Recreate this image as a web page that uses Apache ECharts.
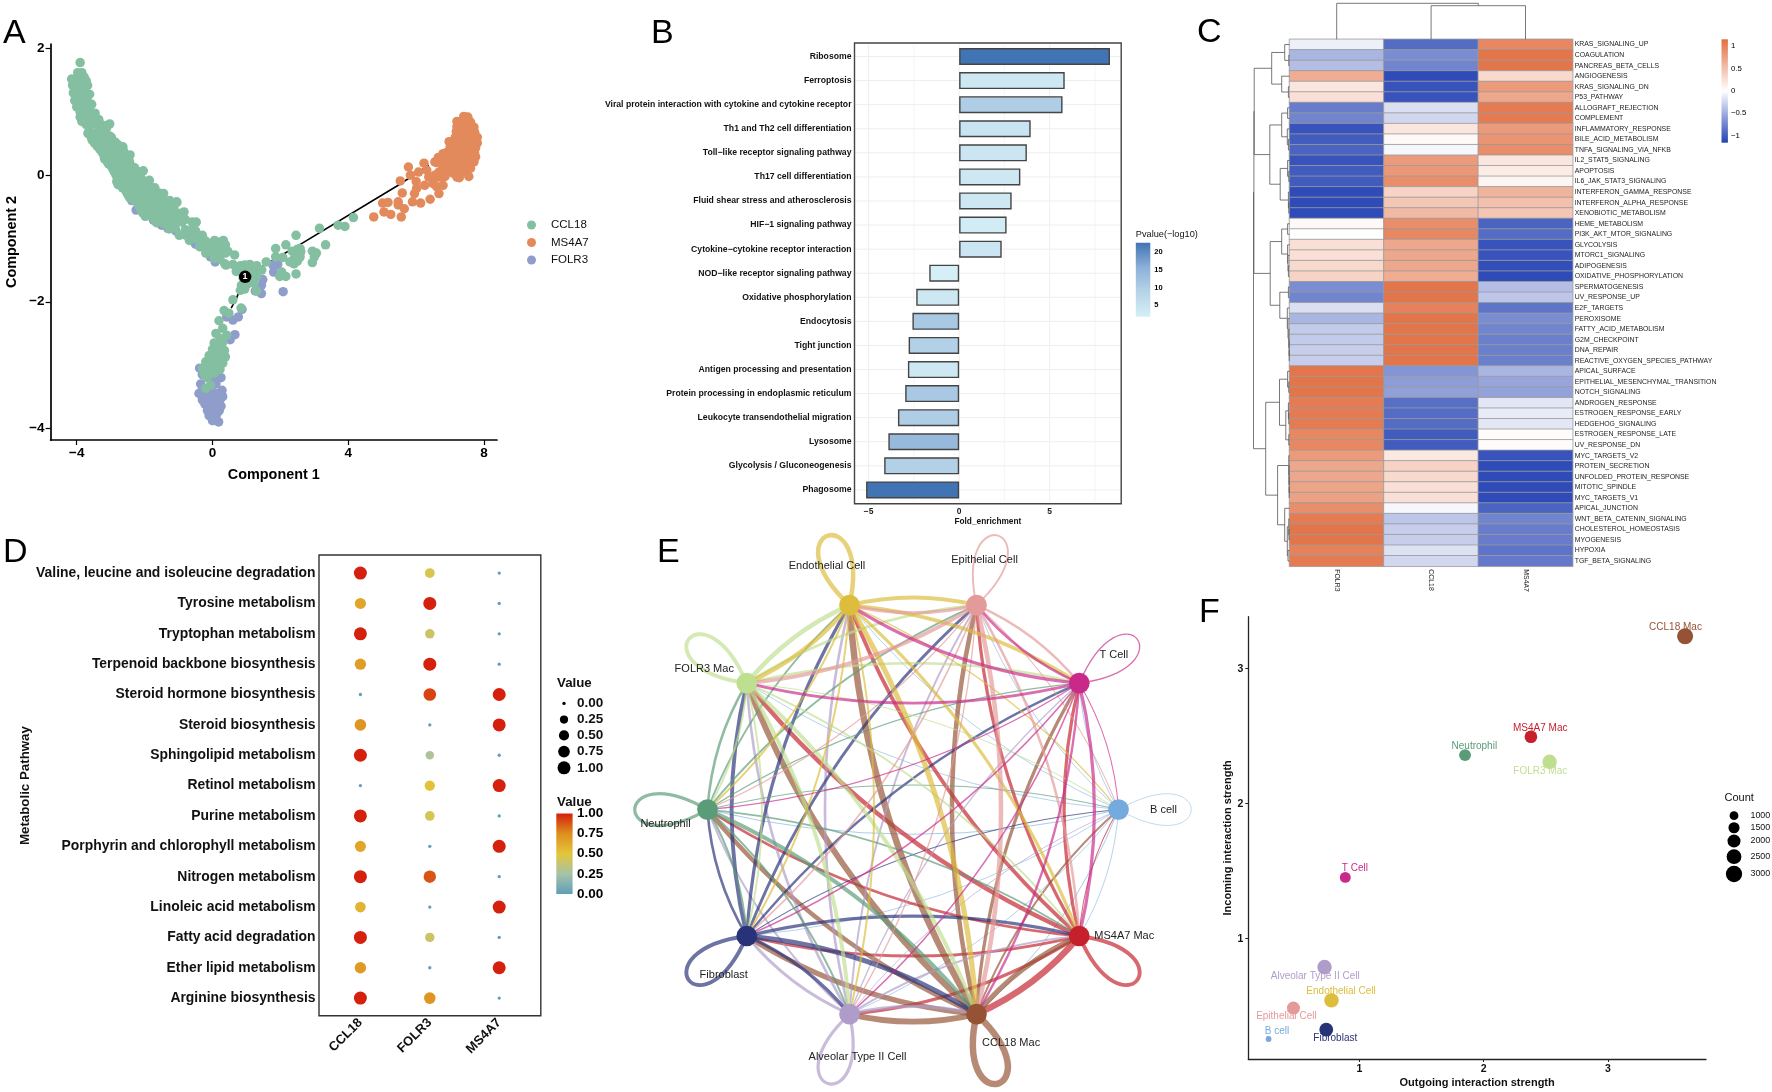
<!DOCTYPE html>
<html><head><meta charset="utf-8">
<style>html,body{margin:0;padding:0;background:#fff}#c{width:1772px;height:1092px}</style>
<script src="https://cdn.jsdelivr.net/npm/echarts@6/dist/echarts.min.js"></script>
</head><body><div id="c"></div>
<script>
// ---------- Panel A ----------
const aCCL18=[[-3.9,1.78],[-3.97,1.62],[-3.85,1.62],[-3.78,1.55],[-4.05,1.5],[-3.92,1.5],[-3.8,1.48],[-3.72,1.49],[-4.02,1.4],[-3.9,1.4],[-3.78,1.38],[-4.0,1.3],[-3.87,1.3],[-3.75,1.28],[-3.97,1.2],[-3.84,1.2],[-3.7,1.2],[-3.93,1.1],[-3.8,1.1],[-3.66,1.1],[-3.9,1.0],[-3.75,1.0],[-3.62,1.02],[-3.8,0.9],[-3.65,0.9],[-3.52,0.9],[-3.72,0.8],[-3.58,0.8],[-3.42,0.8],[-3.2,0.78],
[-4.15,1.52],[-4.12,1.42],[-4.1,1.3],[-4.06,1.18],[-4.0,1.08],[-3.9,0.92],[-3.85,0.85],[-3.68,1.42],[-3.62,1.28],[-3.56,1.12],[-3.46,0.98],[-3.35,0.88],[-3.03,0.81],[-3.28,0.8],[-3.12,0.75],[-3.67,0.66],[-2.64,0.45],[-2.43,0.32],[-2.04,0.07],[-1.86,-0.08],[-1.44,-0.29],[-1.06,-0.42],[-0.84,-0.58],[-0.48,-0.74],[-3.25,0.39],[-3.06,0.18],[-2.82,-0.1],[-2.58,-0.21],[-1.98,-0.58],[-1.44,-0.76],[-0.78,-0.95],[-0.36,-1.13],[0.36,-1.4],[0.72,-1.5],
[-3.58,0.61],[-3.42,0.62],[-3.26,0.6],[-3.12,0.61],[-2.98,0.6],[-3.48,0.51],[-3.32,0.52],[-3.18,0.5],[-3.02,0.51],[-2.86,0.52],[-3.32,0.41],[-3.18,0.42],[-3.02,0.4],[-2.88,0.41],[-2.7,0.42],[-3.2,0.31],[-3.05,0.32],[-2.9,0.3],[-2.75,0.31],[-2.58,0.32],[-3.1,0.21],[-2.95,0.22],[-2.8,0.2],[-2.62,0.21],[-2.45,0.22],[-2.95,0.11],[-2.78,0.12],[-2.62,0.1],[-2.46,0.11],[-2.3,0.12],[-2.85,0.01],[-2.68,0.02],[-2.5,0],[-2.32,0.01],[-2.16,0.02],[-2.7,-0.1],[-2.52,-0.09],[-2.36,-0.11],[-2.18,-0.1],[-2.02,-0.09],[-2.65,-0.2],[-2.46,-0.19],[-2.28,-0.21],[-2.1,-0.2],[-1.92,-0.19],[-1.7,-0.2],[-2.5,-0.3],[-2.32,-0.29],[-2.14,-0.31],[-1.96,-0.3],[-1.78,-0.29],[-1.58,-0.28],[-2.32,-0.4],[-2.15,-0.39],[-1.98,-0.41],[-1.8,-0.4],[-1.62,-0.39],[-1.44,-0.41],[-1.26,-0.4],[-2.15,-0.5],[-1.98,-0.49],[-1.82,-0.51],[-1.64,-0.5],[-1.46,-0.49],[-1.3,-0.51],[-1.14,-0.5],[-2.05,-0.6],[-1.85,-0.59],[-1.68,-0.61],[-1.5,-0.6],[-1.34,-0.59],[-1.18,-0.61],[-1.0,-0.6],[-1.72,-0.7],[-1.55,-0.69],[-1.38,-0.71],[-1.2,-0.7],[-1.02,-0.69],[-0.8,-0.7],
[-3.65,0.68],[-3.5,0.66],[-3.35,0.67],[-3.2,0.65],[-3.03,0.62],[-3.55,0.56],[-3.4,0.57],[-3.25,0.55],[-3.1,0.56],[-2.95,0.53],[-3.4,0.46],[-3.25,0.47],[-3.1,0.45],[-2.95,0.46],[-2.78,0.48],[-3.25,0.36],[-3.1,0.37],[-2.95,0.35],[-2.8,0.36],[-2.62,0.38],[-3.18,0.26],[-3.02,0.27],[-2.88,0.25],[-2.72,0.26],[-2.5,0.3],[-3.0,0.16],[-2.85,0.17],[-2.7,0.15],[-2.55,0.16],[-2.38,0.14],[-2.9,0.06],[-2.72,0.07],[-2.55,0.05],[-2.38,0.06],[-2.25,0.08],
[-2.8,-0.05],[-2.62,-0.04],[-2.45,-0.06],[-2.28,-0.05],[-2.12,-0.03],[-2.78,-0.15],[-2.55,-0.14],[-2.35,-0.16],[-2.15,-0.15],[-2.0,-0.13],[-1.85,-0.17],[-2.55,-0.25],[-2.38,-0.24],[-2.2,-0.26],[-2.02,-0.25],[-1.85,-0.24],[-1.72,-0.27],[-2.45,-0.35],[-2.25,-0.34],[-2.08,-0.36],[-1.9,-0.35],[-1.72,-0.34],[-1.58,-0.37],[-2.2,-0.45],[-2.05,-0.44],[-1.88,-0.46],[-1.7,-0.45],[-1.52,-0.44],[-1.36,-0.46],[-1.05,-0.43],[-2.1,-0.55],[-1.92,-0.54],[-1.75,-0.56],[-1.58,-0.55],[-1.4,-0.54],[-1.25,-0.57],[-1.98,-0.65],[-1.8,-0.64],[-1.62,-0.66],[-1.45,-0.65],[-1.28,-0.64],[-1.1,-0.63],[-0.88,-0.61],[-1.65,-0.75],[-1.48,-0.74],[-1.3,-0.76],[-1.12,-0.75],[-0.9,-0.74],[-0.5,-0.75],[-0.6,-0.74],[-1.28,-0.85],[-1.1,-0.84],[-0.8,-0.86],[-0.6,-0.85],[-0.5,-0.88],[-0.98,-0.95],[-0.75,-0.94],[-0.55,-0.96],[-0.3,-0.95],
[-0.68,-1.03],[-0.42,-1.02],[-0.2,-1.04],[0.06,-1.03],[0.25,-1.05],[0.32,-1.03],[-0.38,-1.13],[-0.15,-1.12],[0.05,-1.14],[0.22,-1.13],[0.38,-1.1],[-0.2,-1.23],[0,-1.22],[0.18,-1.24],[0.38,-1.23],[0.45,-1.2],[0.05,-1.32],[0.22,-1.33],[0.65,-1.26],[0.4,-1.42],[0.6,-1.41],[0.82,-1.43],[0.95,-1.42],[1.1,-1.41],[1.3,-1.43],[1.58,-1.37],[0.7,-1.52],[0.88,-1.51],[1.05,-1.53],[1.22,-1.52],[1.45,-1.5],[0.9,-1.62],[1.08,-1.63],[1.3,-1.6],[1.02,-1.72],[1.22,-1.71],[0.85,-1.74],[0.82,-1.82],[0.95,-1.8],[1.3,-1.83],
[0.6,-1.97],[0.84,-2.1],[0.34,-2.14],[0.48,-2.18],[0.19,-2.3],[0.3,-2.42],[0.1,-2.5],[0.42,-2.53],[0.24,-2.58],[0.05,-2.65],[0.18,-2.66],[0.3,-2.64],[0,-2.75],[0.12,-2.76],[0.25,-2.74],[0.35,-2.77],[-0.1,-2.85],[0.02,-2.86],[0.15,-2.84],[0.28,-2.85],[0.38,-2.87],[-0.2,-2.95],[-0.08,-2.96],[0.05,-2.94],[0.18,-2.95],[0.3,-2.97],[-0.3,-3.05],[-0.18,-3.06],[-0.05,-3.04],[0.1,-3.05],[0.22,-3.07],[-0.25,-3.14],[-0.1,-3.15],[0.05,-3.13],[-0.18,-3.2],[-0.06,-3.32],[-0.2,-3.37],
[1.86,-1.16],[2.16,-1.1],[2.46,-0.95],[2.58,-1.16],[2.46,-1.24],[2.4,-1.32],[2.58,-1.29],[2.28,-1.37],[2.07,-1.3],[1.86,-1.29],[2.46,-1.56],[2.16,-1.6],[1.98,-1.6],[2.04,-1.53],[2.94,-1.2],[3.06,-1.23],[3.0,-1.29],[2.94,-1.38],[3.33,-1.1],[3.15,-0.84],[3.7,-0.79],[3.9,-0.81],[4.15,-0.67],[2.4,-1.4],[2.6,-1.21],[2.5,-1.17],[2.35,-1.2],[2.5,-1.36]];
const aMS4A7=[[7.4,0.93],[7.52,0.92],[7.2,0.85],[7.35,0.86],[7.5,0.85],[7.6,0.84],[7.2,0.77],[7.33,0.76],[7.47,0.77],[7.6,0.78],[7.7,0.76],[7.18,0.69],[7.3,0.68],[7.45,0.7],[7.58,0.69],[7.72,0.68],[7.15,0.6],[7.28,0.61],[7.42,0.59],[7.56,0.6],[7.7,0.61],[7.8,0.6],[7.15,0.52],[7.3,0.53],[7.45,0.51],[7.6,0.52],[7.72,0.53],[7.8,0.51],[7.0,0.44],[7.15,0.45],[7.3,0.43],[7.45,0.44],[7.6,0.45],[7.75,0.43],[6.9,0.36],[7.1,0.37],[7.25,0.35],[7.4,0.36],[7.55,0.37],[7.72,0.35],[6.65,0.28],[6.85,0.29],[7.0,0.27],[7.15,0.28],[7.3,0.29],[7.45,0.27],[7.62,0.28],[7.75,0.29],[6.6,0.2],[6.8,0.21],[6.95,0.19],[7.1,0.2],[7.25,0.21],[7.4,0.19],[7.55,0.2],[7.7,0.21],[6.8,0.12],[7.0,0.13],[7.15,0.11],[7.3,0.12],[7.45,0.13],[7.6,0.11],[6.7,0.04],[6.9,0.05],[7.1,0.03],[7.25,0.04],[7.45,0.05],[6.65,-0.03],[6.85,-0.02],[7.2,-0.03],[7.55,-0.02],[7.27,-0.04],
[5.77,0.13],[6.23,0.19],[6.55,0.21],[5.83,0],[6.07,0.05],[6.31,0.08],[5.53,-0.09],[6.0,-0.1],[6.37,-0.03],[6.55,0],[6.67,0.05],[6.73,-0.03],[6.49,-0.13],[6.25,-0.16],[6.01,-0.21],[6.67,-0.29],[6.79,-0.16],[6.6,-0.18],[5.95,-0.29],[5.59,-0.28],[5.89,-0.42],[6.13,-0.44],[6.41,-0.38],[5.17,-0.43],[5.01,-0.44],[5.47,-0.42],[5.65,-0.53],[5.47,-0.47],[5.05,-0.58],[5.25,-0.62],[5.56,-0.66],[4.75,-0.66],[6.97,0.53],[6.79,0.34],[7.05,0.29],[6.91,0.18]];
const aFOLR3=[[-0.38,-3.05],[-0.3,-3.15],[0.22,-3.0],[-0.35,-3.3],[-0.4,-3.45],[-0.3,-3.4],[-0.18,-3.4],[-0.05,-3.35],[0.1,-3.3],[0.25,-3.2],[-0.3,-3.55],[-0.18,-3.5],[-0.05,-3.48],[0.1,-3.45],[0.28,-3.4],[-0.22,-3.62],[-0.1,-3.6],[0.05,-3.58],[0.22,-3.55],[0.3,-3.5],[-0.15,-3.72],[-0.02,-3.7],[0.12,-3.68],[0.25,-3.65],[-0.1,-3.8],[0.02,-3.8],[0.12,-3.78],[0,-3.88],[0.18,-3.9],[-0.1,-3.72],[0.2,-3.72],[0.06,-3.25],[0.15,-3.12],
[0.66,-2.52],[0.52,-2.6],[0.6,-2.29],[0.76,-2.24],[0.87,-2.12],[0.42,-2.24],[0.24,-2.95],[0.3,-2.92],
[-2.4,0.08],[-2.82,0.05],[-2.38,-0.4],[-2.25,-0.55],[-1.86,-0.6],[-1.74,-0.71],[-1.5,-0.79],[-1.32,-0.84],[-1.08,-0.88],[-0.5,-1.09],[-0.06,-1.29],[0.08,-1.37],
[1.92,-1.41],[1.78,-1.42],[1.8,-1.53],[2.08,-1.84],[1.44,-1.87],[1.26,-1.83],[1.44,-1.74],[1.48,-1.65]];
const aTrajLower=[[0.96,-1.606],[0.7,-1.95],[0.55,-2.1]];
const aTrajRight=[[0.96,-1.606],[1.6,-1.4],[2.56,-1.1],[5.47,-0.158],[6.37,0.158]];
const aBranchPoint=[0.96,-1.606];
const aXTicks=[-4,0,4,8], aYTicks=[-4,-2,0,2];

// ---------- Panel B ----------
const bTerms=['Ribosome','Ferroptosis','Viral protein interaction with cytokine and cytokine receptor','Th1 and Th2 cell differentiation','Toll−like receptor signaling pathway','Th17 cell differentiation','Fluid shear stress and atherosclerosis','HIF−1 signaling pathway','Cytokine−cytokine receptor interaction','NOD−like receptor signaling pathway','Oxidative phosphorylation','Endocytosis','Tight junction','Antigen processing and presentation','Protein processing in endoplasmic reticulum','Leukocyte transendothelial migration','Lysosome','Glycolysis / Gluconeogenesis','Phagosome'];
const bFold=[8.33,5.83,5.71,3.95,3.74,3.38,2.9,2.62,2.35,-1.65,-2.37,-2.58,-2.79,-2.83,-2.98,-3.38,-3.91,-4.14,-5.14];
const bPvalue=[22.6,3.5,10,4.5,4,3.5,3.5,2.5,4,1.8,3.5,11,9.5,3.5,11,10,14,9.5,22.6];
const bXTicks=[-5,0,5], bMinor=[-2.5,2.5,7.5], bBarTicks=[5,10,15,20];

// ---------- Panel C ----------
const cCols=['FOLR3','CCL18','MS4A7'];
const cRows=['KRAS_SIGNALING_UP','COAGULATION','PANCREAS_BETA_CELLS','ANGIOGENESIS','KRAS_SIGNALING_DN','P53_PATHWAY','ALLOGRAFT_REJECTION','COMPLEMENT','INFLAMMATORY_RESPONSE','BILE_ACID_METABOLISM','TNFA_SIGNALING_VIA_NFKB','IL2_STAT5_SIGNALING','APOPTOSIS','IL6_JAK_STAT3_SIGNALING','INTERFERON_GAMMA_RESPONSE','INTERFERON_ALPHA_RESPONSE','XENOBIOTIC_METABOLISM','HEME_METABOLISM','PI3K_AKT_MTOR_SIGNALING','GLYCOLYSIS','MTORC1_SIGNALING','ADIPOGENESIS','OXIDATIVE_PHOSPHORYLATION','SPERMATOGENESIS','UV_RESPONSE_UP','E2F_TARGETS','PEROXISOME','FATTY_ACID_METABOLISM','G2M_CHECKPOINT','DNA_REPAIR','REACTIVE_OXYGEN_SPECIES_PATHWAY','APICAL_SURFACE','EPITHELIAL_MESENCHYMAL_TRANSITION','NOTCH_SIGNALING','ANDROGEN_RESPONSE','ESTROGEN_RESPONSE_EARLY','HEDGEHOG_SIGNALING','ESTROGEN_RESPONSE_LATE','UV_RESPONSE_DN','MYC_TARGETS_V2','PROTEIN_SECRETION','UNFOLDED_PROTEIN_RESPONSE','MITOTIC_SPINDLE','MYC_TARGETS_V1','APICAL_JUNCTION','WNT_BETA_CATENIN_SIGNALING','CHOLESTEROL_HOMEOSTASIS','MYOGENESIS','HYPOXIA','TGF_BETA_SIGNALING'];
const cFOLR3=[-0.1,-0.45,-0.4,0.65,0.2,0.25,-0.8,-0.75,-1.05,-1.0,-0.95,-1.05,-1.0,-1.0,-1.1,-1.1,-1.1,0.05,0.0,0.25,0.25,0.3,0.35,-0.7,-0.75,-0.2,-0.45,-0.32,-0.32,-0.3,-0.3,1.1,1.1,1.1,1.05,1.05,1.05,0.95,0.95,0.8,0.7,0.7,0.72,0.75,0.9,1.05,1.1,1.1,1.0,1.05];
const cCCL18=[-0.9,-0.7,-0.75,-1.1,-1.05,-1.05,-0.2,-0.25,0.2,0.05,-0.05,0.8,0.82,0.9,0.35,0.45,0.55,0.9,0.95,0.7,0.7,0.7,0.65,1.1,1.1,1.0,1.1,1.1,1.1,1.1,1.1,-0.65,-0.6,-0.58,-0.88,-0.9,-0.9,-1.0,-1.0,0.18,0.35,0.3,0.25,0.25,-0.05,-0.35,-0.3,-0.3,-0.18,-0.25];
const cMS4A7=[0.95,1.1,1.1,0.3,0.8,0.7,1.05,1.05,0.8,0.85,0.9,0.2,0.15,0.08,0.6,0.5,0.45,-0.95,-0.9,-1.05,-1.05,-1.08,-1.1,-0.4,-0.35,-0.85,-0.7,-0.75,-0.78,-0.78,-0.78,-0.45,-0.55,-0.57,-0.15,-0.12,-0.15,0.03,0.02,-1.05,-1.1,-1.1,-1.1,-1.1,-0.95,-0.75,-0.8,-0.8,-0.85,-0.82];
const cBarTicks=[-1,-0.5,0,0.5,1];
// dendrograms: [merge height, child, child]; numbers are leaf indices
const cRowTree=[36,[35.6,[35.3,[17.8,[4.8,0,[0.7,1,2]],[7.8,3,[1.1,4,5]]],[19.7,[7.8,[1.9,6,7],[2.2,8,[1.1,9,10]]],[9.3,[1.9,11,[0.7,12,13]],[1.1,14,[0.7,15,16]]]]],[19.3,[7.8,[1.9,17,18],[1.9,19,[1.5,20,[1.1,21,22]]]],[9.7,[1.1,23,24],[2.2,25,[1.5,26,[0.7,27,[0.4,28,[0.3,29,30]]]]]]]],[23.8,[10,[1.9,31,[0.7,32,33]],[3.7,[1.1,34,[0.7,35,36]],[0.7,37,38]]],[11.9,[0.7,39,[0.5,40,[0.4,41,[0.3,42,43]]]],[4.8,44,[2.2,[0.7,45,[0.5,46,47]],[1.5,48,49]]]]]];
const cColTree=[36,0,[33.6,1,2]];

// ---------- Panel D ----------
const dPathways=['Valine, leucine and isoleucine degradation','Tyrosine metabolism','Tryptophan metabolism','Terpenoid backbone biosynthesis','Steroid hormone biosynthesis','Steroid biosynthesis','Sphingolipid metabolism','Retinol metabolism','Purine metabolism','Porphyrin and chlorophyll metabolism','Nitrogen metabolism','Linoleic acid metabolism','Fatty acid degradation','Ether lipid metabolism','Arginine biosynthesis'];
const dGenes=['CCL18','FOLR3','MS4A7'];
const dCCL18=[1,0.65,1,0.68,0,0.72,1,0,1,0.65,1,0.58,1,0.7,1];
const dFOLR3=[0.45,1,0.4,1,0.92,0,0.28,0.52,0.44,0,0.88,0,0.4,0,0.72];
const dMS4A7=[0,0,0,0,1,1,0,1,0,1,0,1,0,1,0];
const dSizeLegend=[0,0.25,0.5,0.75,1];
const dBarTicks=[0,0.25,0.5,0.75,1];

// ---------- Panel E ----------
const eCells=['B cell','MS4A7 Mac','CCL18 Mac','Alveolar Type II Cell','Fibroblast','Neutrophil','FOLR3 Mac','Endothelial Cell','Epithelial Cell','T Cell'];
const eNodeX=[1,0.809,0.309,-0.309,-0.809,-1,-0.809,-0.309,0.309,0.809];
const eNodeY=[0,-0.588,-0.951,-0.951,-0.588,0,0.588,0.951,0.951,0.588];
// interaction strength drawn as line width; row = source, column = target, same order as eCells
const eWeight=[
[0.5,0.6,0.7,0.6,0.6,0.7,0.6,0.6,0.6,0.6],
[0.8,3.0,5.0,2.5,2.2,2.2,3.5,3.0,2.5,2.5],
[1.5,4.0,5.0,4.5,4.0,3.5,4.5,5.0,3.5,2.5],
[0.7,1.5,2.5,2.5,2.2,1.5,2.0,2.0,1.5,1.0],
[0.8,2.5,4.0,2.5,3.0,2.0,3.0,2.5,2.2,1.8],
[0.8,1.5,3.0,1.5,1.6,2.5,2.0,1.5,1.5,1.0],
[0.8,1.5,3.0,3.0,1.5,1.5,3.0,3.5,2.0,2.0],
[1.0,2.5,4.0,1.5,1.5,1.5,3.5,3.5,3.0,3.0],
[0.8,2.0,3.5,1.0,1.2,1.0,3.0,2.5,1.5,2.0],
[0.8,2.5,1.8,1.2,1.2,1.0,2.2,2.5,2.0,1.0]];

// ---------- Panel F ----------
const fCells=['CCL18 Mac','MS4A7 Mac','Neutrophil','FOLR3 Mac','T Cell','Alveolar Type II Cell','Endothelial Cell','Epithelial Cell','Fibroblast','B cell'];
const fOutgoing=[3.62,2.38,1.85,2.53,0.887,0.72,0.776,0.47,0.734,0.27];
const fIncoming=[3.24,2.496,2.36,2.31,1.454,0.79,0.543,0.486,0.326,0.257];
const fCount=[2900,1900,1700,2400,1450,2400,2400,2000,2200,500];
const fCountLegend=[1000,1500,2000,2500,3000];
const fXTicks=[1,2,3], fYTicks=[1,2,3];

// ---------- styles ----------
const FONT='"Liberation Sans", Arial, sans-serif';
const cellColor={'B cell':'#74aade','MS4A7 Mac':'#c5202c','CCL18 Mac':'#955235','Alveolar Type II Cell':'#b09cc8','Fibroblast':'#283278','Neutrophil':'#5a9b78','FOLR3 Mac':'#bfdf90','Endothelial Cell':'#dcbd3c','Epithelial Cell':'#e59a9a','T Cell':'#c92a8a'};
const eLabelOffset={'Endothelial Cell':[-22.5,-39],'Epithelial Cell':[8,-45],'T Cell':[34.6,-28],'FOLR3 Mac':[-42.5,-14.7],'Neutrophil':[-42,14.3],'B cell':[45,0],'MS4A7 Mac':[45,0],'Fibroblast':[-23,38.7],'Alveolar Type II Cell':[8,43.4],'CCL18 Mac':[34.6,29]};
const fLabelOffset={'CCL18 Mac':[-9.6,-8.7],'MS4A7 Mac':[9.3,-8.7],'Neutrophil':[9.3,-9],'FOLR3 Mac':[-9.3,9],'T Cell':[9.6,-9],'Alveolar Type II Cell':[-9.3,9],'Endothelial Cell':[9.6,-8.7],'Epithelial Cell':[-7,7.7],'Fibroblast':[9,9],'B cell':[8.5,-8]};
const minusFmt=v=>String(v).replace('-','−');

const grid=[],xAxis=[],yAxis=[],series=[],visualMap=[],graphic=[];
function addGrid(rect,x,y){grid.push(rect);const i=grid.length-1;x.gridIndex=i;y.gridIndex=i;xAxis.push(x);yAxis.push(y);return i;}
const hidden=(min,max,extra)=>Object.assign({type:'value',show:false,min,max,splitLine:{show:false}},extra||{});
function label(x,y,text,size,opt){graphic.push({type:'text',silent:true,style:Object.assign({x,y,text,fontSize:size,fontFamily:FONT,fill:'#000',textAlign:'left',textVerticalAlign:'middle'},opt||{})});}
function frame(x,y,w,h,stroke,lw){graphic.push({type:'rect',silent:true,z:5,shape:{x,y,width:w,height:h},style:{fill:'none',stroke,lineWidth:lw}});}
function dot(x,y,d){graphic.push({type:'circle',silent:true,shape:{cx:x,cy:y,r:d/2},style:{fill:'#000'}});}

function colorbar(rect,min,max,ticks,colors,fmt,lab,tickLen){
  const g=addGrid(rect,hidden(0,1),{type:'value',position:'right',min,max,z:5,splitLine:{show:false},axisLine:{show:false},
    axisTick:{show:tickLen>0,inside:true,length:tickLen,customValues:ticks,lineStyle:{color:'#fff',width:0.6}},
    axisLabel:Object.assign({customValues:ticks,formatter:fmt,margin:4,fontFamily:FONT,color:'#000'},lab)});
  series.push({type:'custom',xAxisIndex:g,yAxisIndex:g,silent:true,data:[[0,min]],renderItem(p){
    const c=p.coordSys;const stops=colors.map((col,i)=>({offset:i/(colors.length-1),color:col}));
    return {type:'rect',shape:{x:c.x,y:c.y,width:c.width,height:c.height},style:{fill:new echarts.graphic.LinearGradient(0,1,0,0,stops)}};
  }});
}

// ---------- A ----------
{
 const tick={fontFamily:FONT,fontWeight:'bold',fontSize:13.5,color:'#000',formatter:minusFmt,margin:6};
 const name={fontFamily:FONT,fontWeight:'bold',fontSize:14.4,color:'#000'};
 const axl={show:true,onZero:false,lineStyle:{color:'#000',width:1.7}};
 const g=addGrid({left:50.6,top:44,width:446.4,height:396},
  {type:'value',min:-4.77,max:8.38,splitLine:{show:false},axisLine:axl,axisTick:{length:5,customValues:aXTicks,lineStyle:{color:'#000',width:1.2}},axisLabel:Object.assign({customValues:aXTicks},tick),name:'Component 1',nameLocation:'middle',nameGap:28,nameTextStyle:name},
  {type:'value',min:-4.185,max:2.074,splitLine:{show:false},axisLine:axl,axisTick:{length:5,customValues:aYTicks,lineStyle:{color:'#000',width:1.2}},axisLabel:Object.assign({customValues:aYTicks},tick),name:'Component 2',nameLocation:'middle',nameGap:32,nameTextStyle:name});
 [aTrajLower,aTrajRight].forEach(t=>series.push({type:'line',xAxisIndex:g,yAxisIndex:g,data:t,symbol:'none',smooth:false,silent:true,lineStyle:{color:'#000',width:1.6},z:1}));
 [['FOLR3',aFOLR3,'#8f9dca'],['MS4A7',aMS4A7,'#e38a5c'],['CCL18',aCCL18,'#84bfa2']].forEach(([n,d,c])=>series.push({name:n,type:'scatter',xAxisIndex:g,yAxisIndex:g,data:d,symbolSize:9.5,itemStyle:{color:c,opacity:1},z:2}));
 series.push({type:'scatter',xAxisIndex:g,yAxisIndex:g,data:[aBranchPoint],symbolSize:12.5,itemStyle:{color:'#000',opacity:1},z:3,label:{show:true,position:'inside',formatter:'1',color:'#fff',fontSize:9,fontWeight:'bold',fontFamily:FONT}});
}
const legendA={show:true,data:['CCL18','MS4A7','FOLR3'],orient:'vertical',left:522,top:214,itemWidth:9,itemHeight:9,itemGap:5.5,icon:'circle',textStyle:{fontFamily:FONT,fontSize:11.5,color:'#111',padding:[0,0,0,10]}};

// ---------- B ----------
{
 const g=addGrid({left:854.5,top:44.46,width:266.7,height:457.5},
  {type:'value',min:-5.78,max:8.95,offset:1.8,splitLine:{show:false},axisLine:{show:false},axisTick:{length:2.5,customValues:bXTicks,lineStyle:{color:'#333'}},axisLabel:{customValues:bXTicks,formatter:minusFmt,fontFamily:FONT,fontWeight:'bold',fontSize:8.5,color:'#222',margin:3},name:'Fold_enrichment',nameLocation:'middle',nameGap:14,nameTextStyle:{fontFamily:FONT,fontWeight:'bold',fontSize:8.3,color:'#111'}},
  {type:'category',inverse:true,data:bTerms,splitLine:{show:false},axisLine:{show:false},axisTick:{alignWithLabel:true,length:2.5,lineStyle:{color:'#333'}},axisLabel:{interval:0,fontFamily:FONT,fontWeight:'bold',fontSize:8.66,color:'#111',margin:3}});
 const vline=(vals,w)=>series.push({type:'custom',xAxisIndex:g,yAxisIndex:g,silent:true,z:1,clip:false,data:vals.map(v=>[v,0]),renderItem(p,api){const c=p.coordSys;const x=api.coord([api.value(0),0])[0];return {type:'line',shape:{x1:x,y1:c.y,x2:x,y2:c.y+c.height},style:{stroke:'#eeeeee',lineWidth:w}};}});
 vline(bXTicks,1);vline(bMinor,0.6);
 series.push({type:'custom',xAxisIndex:g,yAxisIndex:g,silent:true,z:1,data:bTerms.map((t,i)=>[0,i]),renderItem(p,api){const c=p.coordSys;const y=api.coord([0,api.value(1)])[1];return {type:'line',shape:{x1:c.x,y1:y,x2:c.x+c.width,y2:y},style:{stroke:'#eeeeee',lineWidth:1}};}});
 series.push({type:'bar',xAxisIndex:g,yAxisIndex:g,barWidth:17,z:3,encode:{x:0,y:1},data:bTerms.map((t,i)=>[bFold[i],i,bPvalue[i]]),itemStyle:{borderColor:'#444',borderWidth:1.4}});
 visualMap.push({show:false,seriesIndex:series.length-1,dimension:2,min:1.8,max:22.6,inRange:{color:['#d5eff6','#b7d4e8','#8cb0d8','#4174b4']}});
 frame(854.5,43,266.7,460.8,'#444',1.4);
 label(1135.8,234,'Pvalue(−log10)',9.2,{fill:'#111'});
 colorbar({left:1135.8,top:242.8,width:14.5,height:74},1.8,22.6,bBarTicks,['#d5eff6','#b7d4e8','#8cb0d8','#4174b4'],v=>String(v),{fontSize:7.5,fontWeight:'bold'},3);
}

// ---------- C ----------
{
 const hmColors=['#2442b4','#ffffff','#e26f42'];
 const g=addGrid({left:1289.5,top:39.3,width:283.2,height:527},
  {type:'category',data:cCols,axisLine:{show:false},axisTick:{show:false},splitLine:{show:false},axisLabel:{interval:0,rotate:-90,fontFamily:FONT,fontSize:6.9,color:'#222',margin:3}},
  {type:'category',inverse:true,position:'right',data:cRows,axisLine:{show:false},axisTick:{show:false},splitLine:{show:false},axisLabel:{interval:0,fontFamily:FONT,fontSize:6.9,color:'#222',margin:2}});
 const cells=[];
 cRows.forEach((r,i)=>{cells.push([0,i,cFOLR3[i]],[1,i,cCCL18[i]],[2,i,cMS4A7[i]]);});
 series.push({type:'heatmap',xAxisIndex:g,yAxisIndex:g,data:cells,itemStyle:{borderColor:'#9a9a9a',borderWidth:0.8}});
 visualMap.push({show:false,seriesIndex:series.length-1,dimension:2,min:-1.156,max:1.15,inRange:{color:hmColors}});
 const segs=(t,horizontal,out)=>{
   if(typeof t==='number')return {p:t+0.5,h:0};
   const a=segs(t[1],horizontal,out),b=segs(t[2],horizontal,out),h=t[0];
   const add=(h1,p1,h2,p2)=>out.push(horizontal?[h1,p1,h2,p2]:[p1,h1,p2,h2]);
   add(h,a.p,h,b.p);add(a.h,a.p,h,a.p);add(b.h,b.p,h,b.p);
   return {p:(a.p+b.p)/2,h};
 };
 const dendro=(g2,data)=>series.push({type:'custom',xAxisIndex:g2,yAxisIndex:g2,silent:true,data,renderItem(p,api){
   const a=api.coord([api.value(0),api.value(1)]),b=api.coord([api.value(2),api.value(3)]);
   return {type:'line',shape:{x1:a[0],y1:a[1],x2:b[0],y2:b[1]},style:{stroke:'#555',lineWidth:0.8}};}});
 const rowSegs=[];segs(cRowTree,true,rowSegs);
 const colSegs=[];segs(cColTree,false,colSegs);
 dendro(addGrid({left:1253.5,top:39.3,width:36,height:527},hidden(0,36,{inverse:true}),hidden(0,50,{inverse:true})),rowSegs);
 dendro(addGrid({left:1289.5,top:3.3,width:283.2,height:36},hidden(0,3),hidden(0,36)),colSegs);
 colorbar({left:1721.5,top:39.3,width:6.4,height:103.4},-1.156,1.15,cBarTicks,hmColors,minusFmt,{fontSize:7.8,margin:3},0);
}

// ---------- D ----------
{
 const scale=['#5f9fb8','#a6c3a8','#e4c53a','#dd8f1e','#d4200c'];
 const g=addGrid({left:325.7,top:557.9,width:208.2,height:455.4},
  {type:'category',data:dGenes,offset:2.4,axisLine:{show:false},splitLine:{show:false},axisTick:{alignWithLabel:true,length:3,lineStyle:{color:'#222'}},axisLabel:{interval:0,rotate:45,fontFamily:FONT,fontWeight:'bold',fontSize:13,color:'#111',margin:5}},
  {type:'category',inverse:true,data:dPathways,offset:6.7,axisLine:{show:false},splitLine:{show:false},axisTick:{alignWithLabel:true,length:3,lineStyle:{color:'#222'}},axisLabel:{interval:0,fontFamily:FONT,fontWeight:'bold',fontSize:13.9,color:'#111',margin:3.5},name:'Metabolic Pathway',nameLocation:'middle',nameGap:287,nameTextStyle:{fontFamily:FONT,fontWeight:'bold',fontSize:13.3,color:'#111'}});
 const pts=[];
 dPathways.forEach((r,i)=>{pts.push([0,i,dCCL18[i]],[1,i,dFOLR3[i]],[2,i,dMS4A7[i]]);});
 series.push({type:'scatter',xAxisIndex:g,yAxisIndex:g,data:pts,symbolSize:d=>3.3+9.7*Math.sqrt(d[2]),itemStyle:{opacity:1}});
 visualMap.push({show:false,seriesIndex:series.length-1,dimension:2,min:0,max:1,inRange:{color:scale}});
 frame(319,555,221.8,460.7,'#333',1.4);
 label(557,683.7,'Value',13.3,{fontWeight:'bold',fill:'#111'});
 const sy=[703.4,719.6,735.4,751.6,767.8];
 dSizeLegend.forEach((v,i)=>{dot(564,sy[i],3.3+9.7*Math.sqrt(v));label(577,sy[i],v.toFixed(2),13.5,{fontWeight:'bold',fill:'#111'});});
 label(557,802.3,'Value',13.3,{fontWeight:'bold',fill:'#111'});
 colorbar({left:556.3,top:813.6,width:16.3,height:80.3},0,1,dBarTicks,scale,v=>v.toFixed(2),{fontSize:13.5,fontWeight:'bold',margin:4.5},3);
}

// ---------- E ----------
{
 const g=addGrid({left:707.5,top:594.6,width:411,height:430},hidden(-1,1),hidden(-1,1));
 const edges=[];
 eWeight.forEach((row,i)=>row.forEach((w,j)=>edges.push([i,j,w])));
 series.push({type:'custom',xAxisIndex:g,yAxisIndex:g,silent:true,clip:false,z:1,encode:{x:-1,y:-1},data:edges,renderItem(p,api){
   const i=api.value(0),j=api.value(1),w=api.value(2)*1.3;
   const color=cellColor[eCells[i]];
   const a=api.coord([eNodeX[i],eNodeY[i]]),b=api.coord([eNodeX[j],eNodeY[j]]);
   const style={fill:'none',stroke:color,lineWidth:w,opacity:0.68};
   if(i===j){
     const c=api.coord([0,0]);let dx=a[0]-c[0],dy=a[1]-c[1];const L=Math.hypot(dx,dy);dx/=L;dy/=L;
     const along=97,across=55;
     return {type:'bezierCurve',shape:{x1:a[0],y1:a[1],x2:a[0],y2:a[1],cpx1:a[0]+dx*along-dy*across,cpy1:a[1]+dy*along+dx*across,cpx2:a[0]+dx*along+dy*across,cpy2:a[1]+dy*along-dx*across},style};
   }
   const dx=b[0]-a[0],dy=b[1]-a[1],k=0.12;
   return {type:'bezierCurve',shape:{x1:a[0],y1:a[1],x2:b[0],y2:b[1],cpx1:(a[0]+b[0])/2+dy*k,cpy1:(a[1]+b[1])/2-dx*k},style};
 }});
 series.push({type:'scatter',xAxisIndex:g,yAxisIndex:g,z:3,symbolSize:20.7,data:eCells.map((n,i)=>({value:[eNodeX[i],eNodeY[i]],name:n,itemStyle:{color:cellColor[n],opacity:1},label:{show:true,position:'inside',formatter:n,offset:eLabelOffset[n],fontFamily:FONT,fontSize:11,color:'#222'}}))});
}

// ---------- F ----------
{
 const name={fontFamily:FONT,fontWeight:'bold',fontSize:11,color:'#111'};
 const tick={fontFamily:FONT,fontWeight:'bold',fontSize:10.5,color:'#111',margin:5};
 const axl={show:true,onZero:false,lineStyle:{color:'#222',width:1.3}};
 const g=addGrid({left:1248.3,top:616.7,width:457.7,height:442.3},
  {type:'value',min:0.107,max:3.788,splitLine:{show:false},axisLine:axl,axisTick:{length:3,customValues:fXTicks,lineStyle:{color:'#222'}},axisLabel:Object.assign({customValues:fXTicks},tick),name:'Outgoing interaction strength',nameLocation:'middle',nameGap:18,nameTextStyle:name},
  {type:'value',min:0.109,max:3.385,splitLine:{show:false},axisLine:axl,axisTick:{length:3,customValues:fYTicks,lineStyle:{color:'#222'}},axisLabel:Object.assign({customValues:fYTicks},tick),name:'Incoming interaction strength',nameLocation:'middle',nameGap:15,nameTextStyle:name});
 const sizeOf=c=>8.8+(Math.sqrt(c)-Math.sqrt(1000))/(Math.sqrt(3000)-Math.sqrt(1000))*7.5;
 series.push({type:'scatter',xAxisIndex:g,yAxisIndex:g,data:fCells.map((n,i)=>({value:[fOutgoing[i],fIncoming[i],fCount[i]],name:n,symbolSize:sizeOf(fCount[i]),itemStyle:{color:cellColor[n],opacity:1},label:{show:true,position:'inside',formatter:n,offset:fLabelOffset[n],fontFamily:FONT,fontSize:10,color:cellColor[n]}}))});
 label(1724.5,798,'Count',11,{fill:'#111'});
 const ly=[815.7,827.7,841,856.7,874];
 fCountLegend.forEach((c,i)=>{dot(1734,ly[i],sizeOf(c));label(1750.5,ly[i],String(c),8.9,{fill:'#111'});});
}

// ---------- panel letters ----------
[['A',3,34],['B',651,34],['C',1197,33],['D',3,553],['E',657,553],['F',1199,613]].forEach(([t,x,y])=>label(x,y,t,34,{fill:'#000'}));

const chart=echarts.init(document.getElementById('c'),null,{renderer:'canvas',width:1772,height:1092});
chart.setOption({animation:false,backgroundColor:'#fff',textStyle:{fontFamily:FONT},tooltip:{show:false},legend:legendA,grid,xAxis,yAxis,series,visualMap,graphic});
</script></body></html>
